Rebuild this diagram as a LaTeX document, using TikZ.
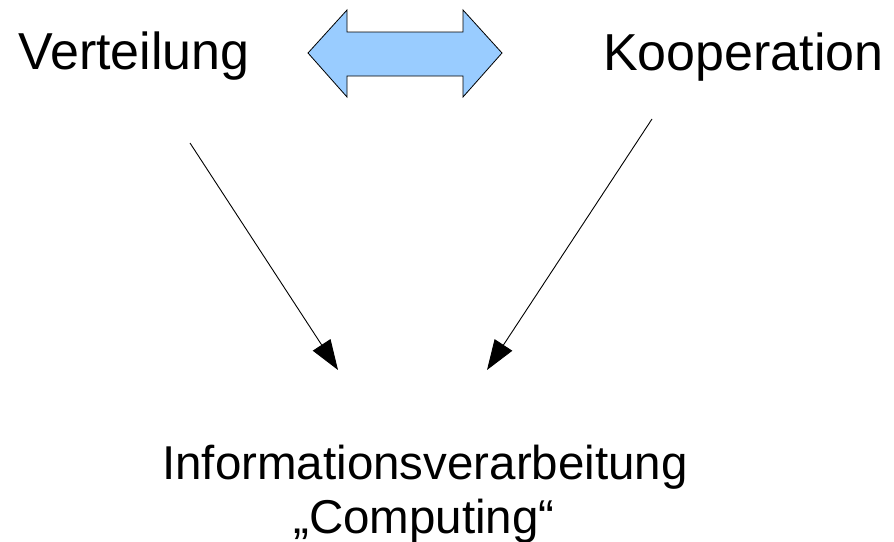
\documentclass[tikz,border=0pt]{standalone}
\usepackage{fontspec}
\setmainfont{Liberation Sans}
\usetikzlibrary{arrows.meta}
\definecolor{arrowblue}{HTML}{99CCFF}
\begin{document}
\begin{tikzpicture}[x=1pt,y=-1pt,
  label text/.style={inner sep=0pt, anchor=base, font=\fontsize{52}{60}\selectfont},
  result text/.style={inner sep=0pt, anchor=base, font=\fontsize{47.5}{55}\selectfont},
  flow/.style={draw=black, line width=0.9pt, -{Triangle[length=30pt,width=21pt]}},
  twoway/.style={draw=black, line width=0.8pt, fill=arrowblue, line join=miter}]
  \useasboundingbox (0,0) rectangle (894,541);

  % the two concepts
  \node[label text] (vert) at (134,69) {Verteilung};
  \node[label text] (koop) at (743.5,70) {Kooperation};

  % the result, two centred lines
  \node[result text] (info) at (425,479) {Informationsverarbeitung};
  \node[result text] (comp) at (424,533) {„Computing“};

  % double-headed block arrow between the concepts
  \path[twoway] (308,53) -- (347,10) -- (347,32) -- (463,32) -- (463,10)
    -- (502,53) -- (463,97) -- (463,76) -- (347,76) -- (347,97) -- cycle;

  % arrows down to the result
  \coordinate (vstart) at (190,143);
  \coordinate (vend) at (338,370);
  \coordinate (kstart) at (652,119);
  \coordinate (kend) at (487,370);
  \draw[flow] (vstart) -- (vend);
  \draw[flow] (kstart) -- (kend);
\end{tikzpicture}
\end{document}
